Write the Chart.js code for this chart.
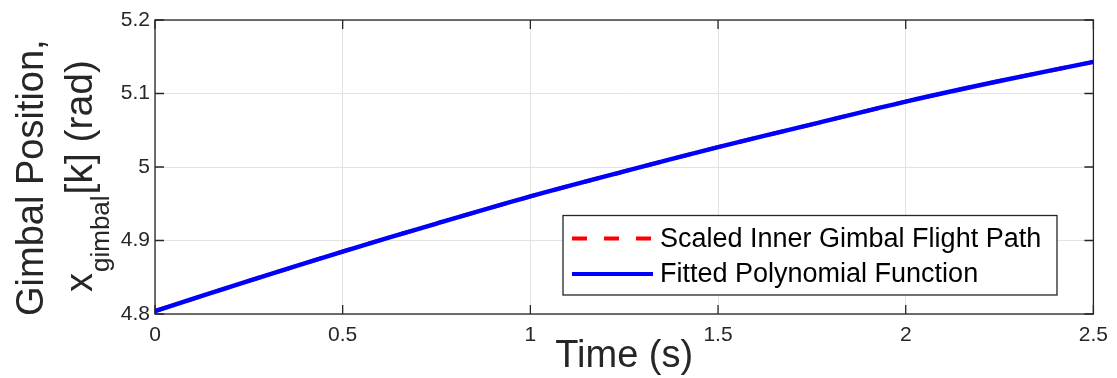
<!DOCTYPE html>
<html>
<head>
<meta charset="utf-8">
<script src="https://cdn.jsdelivr.net/npm/chart.js@4.4.1/dist/chart.umd.min.js"></script>
<style>
  html, body { margin: 0; padding: 0; background: #fff; }
  #wrap { width: 1117px; height: 378px; }
</style>
</head>
<body>
<div id="wrap"><canvas id="c" width="1117" height="378"></canvas></div>
<script>
// Time samples (s) and gimbal position (rad)
const timeS = [0, 0.25, 0.5, 0.75, 1.0, 1.25, 1.5, 1.75, 2.0, 2.25, 2.5];
const flightPath = [4.804, 4.845, 4.885, 4.923, 4.960, 4.994, 5.027, 5.058, 5.089, 5.117, 5.143];
const fittedPoly = [4.804, 4.845, 4.885, 4.923, 4.960, 4.994, 5.027, 5.058, 5.089, 5.117, 5.143];
const seriesNames = ['Scaled Inner Gimbal Flight Path', 'Fitted Polynomial Function'];

const xTickValues = [0, 0.5, 1, 1.5, 2, 2.5];
const xTickLabels = ['0', '0.5', '1', '1.5', '2', '2.5'];
const yTickValues = [4.8, 4.9, 5.0, 5.1, 5.2];
const yTickLabels = ['4.8', '4.9', '5', '5.1', '5.2'];

const FONT = '"Liberation Sans", Arial, Helvetica, sans-serif';
const AXIS_COLOR = '#262626';

const toPoints = (xs, ys) => xs.map((t, i) => ({ x: t, y: ys[i] }));

// Box frame, inward tick marks, legend and two-line y label
const decorations = {
  id: 'decorations',
  afterDatasetsDraw(chart) {
    const { ctx, chartArea: a, scales: { x, y } } = chart;
    ctx.save();
    ctx.strokeStyle = AXIS_COLOR;
    ctx.lineWidth = 1.3;
    ctx.strokeRect(a.left, a.top, a.right - a.left, a.bottom - a.top);
    const L = 9;
    ctx.beginPath();
    x.ticks.forEach(t => {
      const px = x.getPixelForValue(t.value);
      ctx.moveTo(px, a.bottom); ctx.lineTo(px, a.bottom - L);
      ctx.moveTo(px, a.top); ctx.lineTo(px, a.top + L);
    });
    y.ticks.forEach(t => {
      const py = y.getPixelForValue(t.value);
      ctx.moveTo(a.left, py); ctx.lineTo(a.left + L, py);
      ctx.moveTo(a.right, py); ctx.lineTo(a.right - L, py);
    });
    ctx.stroke();

    // legend box
    const bx = 563, by = 215.5, bw = 494, bh = 79.5;
    ctx.fillStyle = '#ffffff';
    ctx.fillRect(bx, by, bw, bh);
    ctx.strokeStyle = AXIS_COLOR;
    ctx.lineWidth = 1.3;
    ctx.strokeRect(bx, by, bw, bh);
    const rows = [238.5, 274];
    chart.data.datasets.forEach((ds, i) => {
      const ry = rows[i];
      ctx.beginPath();
      ctx.strokeStyle = ds.borderColor;
      ctx.lineWidth = 4;
      ctx.setLineDash(ds.borderDash || []);
      ctx.moveTo(572, ry); ctx.lineTo(653, ry);
      ctx.stroke();
      ctx.setLineDash([]);
      ctx.fillStyle = '#000000';
      ctx.font = '27px ' + FONT;
      ctx.textBaseline = 'middle';
      ctx.textAlign = 'left';
      ctx.fillText(ds.label, 660, ry + 1);
    });
    ctx.restore();
  },
  afterDraw(chart) {
    const { ctx } = chart;
    ctx.save();
    ctx.fillStyle = AXIS_COLOR;
    ctx.textAlign = 'left';
    ctx.textBaseline = 'alphabetic';
    // first line
    ctx.save();
    ctx.translate(43, 316);
    ctx.rotate(-Math.PI / 2);
    ctx.font = '38px ' + FONT;
    ctx.fillText('Gimbal Position,', 0, 0);
    ctx.restore();
    // second line with subscript
    ctx.save();
    ctx.translate(92, 292);
    ctx.rotate(-Math.PI / 2);
    let cx = 0;
    ctx.font = '38px ' + FONT;
    ctx.fillText('x', cx, 0);
    cx += ctx.measureText('x').width + 1;
    ctx.font = '26px ' + FONT;
    ctx.fillText('gimbal', cx, 17);
    cx += ctx.measureText('gimbal').width + 1;
    ctx.font = '39px ' + FONT;
    ctx.fillText('[k] (rad)', cx, 0);
    ctx.restore();
    ctx.restore();
  }
};

new Chart(document.getElementById('c'), {
  type: 'line',
  data: {
    datasets: [
      {
        label: seriesNames[0],
        data: toPoints(timeS, flightPath),
        borderColor: '#ff0000',
        borderWidth: 4,
        borderDash: [15, 17],
        pointRadius: 0,
        tension: 0.3,
        order: 2
      },
      {
        label: seriesNames[1],
        data: toPoints(timeS, fittedPoly),
        borderColor: '#0000ff',
        borderWidth: 4.5,
        pointRadius: 0,
        tension: 0.3,
        order: 1
      }
    ]
  },
  options: {
    responsive: false,
    animation: false,
    events: [],
    layout: { padding: { top: 20, right: 18, left: 0, bottom: 0 } },
    plugins: { legend: { display: false }, tooltip: { enabled: false } },
    scales: {
      x: {
        type: 'linear',
        min: 0,
        max: 2.5,
        afterBuildTicks: s => { s.ticks = xTickValues.map(v => ({ value: v })); },
        afterFit: s => { s.height = 64; },
        grid: { color: '#e3e3e3', lineWidth: 1, drawTicks: false },
        border: { display: false },
        ticks: {
          padding: 9,
          color: AXIS_COLOR,
          font: { family: FONT, size: 21 },
          maxRotation: 0,
          autoSkip: false,
          callback: (v, i) => xTickLabels[i]
        },
        title: {
          display: true,
          text: 'Time (s)',
          color: AXIS_COLOR,
          font: { family: FONT, size: 38, lineHeight: 1 },
          padding: { top: 0, bottom: 2 }
        }
      },
      y: {
        type: 'linear',
        min: 4.8,
        max: 5.2,
        afterBuildTicks: s => { s.ticks = yTickValues.map(v => ({ value: v })); },
        afterFit: s => { s.width = 155; },
        grid: { color: '#e3e3e3', lineWidth: 1, drawTicks: false },
        border: { display: false },
        ticks: {
          padding: 5,
          color: AXIS_COLOR,
          font: { family: FONT, size: 21 },
          autoSkip: false,
          callback: (v, i) => yTickLabels[i]
        }
      }
    }
  },
  plugins: [decorations]
});
</script>
</body>
</html>
